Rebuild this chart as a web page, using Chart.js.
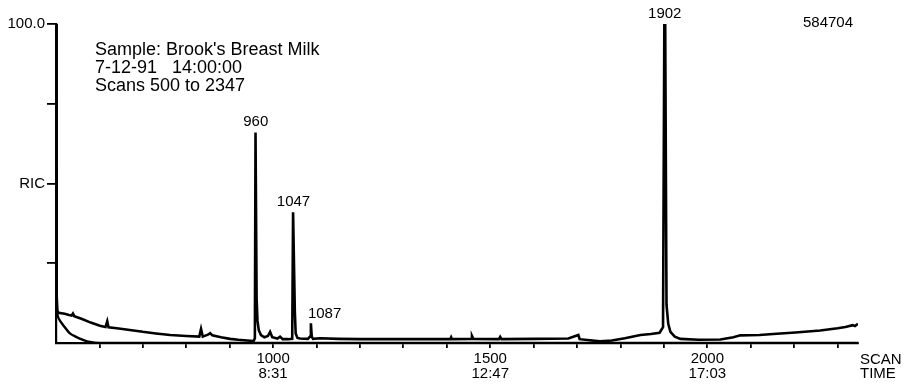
<!DOCTYPE html>
<html>
<head>
<meta charset="utf-8">
<script src="https://cdn.jsdelivr.net/npm/chart.js@4.4.1/dist/chart.umd.min.js"></script>
<style>
  html, body { margin: 0; padding: 0; background: #fff; }
</style>
</head>
<body>
<canvas id="ric" width="907" height="388"></canvas>
<script>
// RIC trace (scan number -> % of full scale)
const scanNumbers = [500, 501, 502, 503, 506, 520, 530, 536, 539, 542, 560, 580, 601, 614, 618, 621, 640, 670, 700, 730, 763, 800, 830, 834, 838, 850, 855, 860, 880, 901, 920, 947, 955, 958, 959.5, 960.5, 962, 964, 967, 972, 980, 988, 993, 998, 1010, 1016, 1022, 1034, 1044, 1046, 1048, 1050, 1052, 1056, 1062, 1080, 1085, 1087, 1089, 1092, 1108, 1150, 1200, 1300, 1408, 1410, 1412, 1456, 1458, 1461, 1520, 1523, 1526, 1600, 1680, 1703, 1706, 1753, 1780, 1810, 1846, 1870, 1890, 1898, 1901, 1903, 1906, 1910, 1915, 1925, 1938, 1980, 2030, 2060, 2076, 2120, 2160, 2203, 2260, 2300, 2318, 2335, 2340, 2347];
const ricValues = [100, 60, 15, 10, 9.5, 9.2, 8.8, 8.6, 9.2, 8.4, 7.5, 6.4, 5.4, 5.0, 6.8, 4.9, 4.6, 4.1, 3.5, 3.0, 2.5, 2.2, 2.0, 4.4, 2.0, 2.6, 3.1, 2.4, 1.8, 1.3, 1.0, 0.7, 0.6, 1.5, 66, 66, 14, 7, 4, 2.5, 1.8, 2.2, 3.5, 1.8, 1.4, 2.0, 1.2, 1.2, 1.3, 41, 41, 10, 3, 1.6, 1.4, 1.3, 2, 6.2, 2, 1.3, 1.5, 1.3, 1.2, 1.2, 1.2, 1.8, 1.2, 1.3, 2.2, 1.3, 1.2, 1.9, 1.2, 1.3, 1.4, 2.5, 1.2, 0.5, 0.8, 1.5, 2.5, 2.8, 3.2, 5, 100, 100, 12, 6, 3.5, 2.0, 1.3, 1.0, 1.1, 1.8, 2.4, 2.5, 2.9, 3.3, 3.9, 4.6, 5.0, 5.6, 5.3, 6.0];

// lower baseline curve
const baselineScans = [500, 501, 502, 504, 509, 520, 532, 545, 562, 578, 600, 2347];
const baselineValues = [100, 40, 12, 8.5, 7, 5, 3, 2, 1, 0.3, 0, 0];

const peakScans = [960, 1047, 1087, 1902];
const peakHeights = [66, 41, 6.2, 100];

const labelledScans = [1000, 1500, 2000];
const scanTimes = ['8:31', '12:47', '17:03'];

const yTickValues = [25, 50, 75, 100];
const yTickLabels = ['', 'RIC', '', '100.0'];

const sampleInfo = ["Sample: Brook's Breast Milk", '7-12-91   14:00:00', 'Scans 500 to 2347'];
const fullScale = '584704';

const FONT = '"Liberation Sans", Arial, sans-serif';

const toPoints = (xs, ys) => xs.map((x, i) => ({ x: x, y: ys[i] }));

const annotations = {
    id: 'annotations',
    afterDraw(chart) {
        const ctx = chart.ctx
        const xs = chart.scales.x
        const ys = chart.scales.y
        ctx.save()
        ctx.fillStyle = '#000'

        // sample block
        ctx.font = '18px ' + FONT
        ctx.textAlign = 'left'
        ctx.textBaseline = 'alphabetic'
        const infoBase = [55, 73, 91]
        sampleInfo.forEach((line, i) => ctx.fillText(line, 95, infoBase[i]))

        // peak scan numbers
        ctx.font = '15px ' + FONT
        peakScans.forEach((scan, i) => {
            const px = xs.getPixelForValue(scan)
            const py = ys.getPixelForValue(peakHeights[i])
            if (scan === 1087) {
                ctx.textAlign = 'left'
                ctx.fillText(String(scan), px - 3, py - 5)
            } else {
                ctx.textAlign = 'center'
                ctx.fillText(String(scan), px, py - 6)
            }
        })

        // full scale count, top right
        ctx.textAlign = 'center'
        ctx.fillText(fullScale, 828, 27)

        // axis title at the right end
        ctx.textAlign = 'left'
        ctx.fillText('SCAN', 860, 364)
        ctx.fillText('TIME', 860, 378)
        ctx.restore()
    }
}

new Chart(document.getElementById('ric'), {
    type: 'line',
    data: {
        datasets: [
            {
                data: toPoints(scanNumbers, ricValues),
                borderColor: '#000',
                borderWidth: 2.6,
                pointRadius: 0,
                tension: 0,
                fill: false
            },
            {
                data: toPoints(baselineScans, baselineValues),
                borderColor: '#000',
                borderWidth: 2.4,
                pointRadius: 0,
                tension: 0.3,
                fill: false
            }
        ]
    },
    options: {
        responsive: false,
        animation: false,
        layout: { padding: { top: 24, right: 49, left: 0, bottom: 0 } },
        plugins: {
            legend: { display: false },
            tooltip: { enabled: false }
        },
        scales: {
            x: {
                type: 'linear',
                min: 500,
                max: 2347,
                afterFit(s) { s.height = 45 },
                afterBuildTicks(s) {
                    const t = []
                    for (let v = 600; v <= 2300; v += 100) t.push({ value: v })
                    s.ticks = t
                },
                grid: { drawOnChartArea: false, drawTicks: true, tickLength: 5, color: '#000', lineWidth: 1.8 },
                border: { display: true, color: '#000', width: 2.2 },
                ticks: {
                    autoSkip: false,
                    maxRotation: 0,
                    padding: 4,
                    color: '#000',
                    font: { family: FONT, size: 15, lineHeight: 0.95 },
                    callback(v) {
                        const i = labelledScans.indexOf(v)
                        return i < 0 ? '' : [String(v), scanTimes[i]]
                    }
                }
            },
            y: {
                min: 0,
                max: 100,
                afterFit(s) { s.width = 56 },
                afterBuildTicks(s) { s.ticks = yTickValues.map(v => ({ value: v })) },
                grid: { drawOnChartArea: false, drawTicks: true, tickLength: 9, color: '#000', lineWidth: 1.8 },
                border: { display: true, color: '#000', width: 2.2 },
                ticks: {
                    padding: 2,
                    color: '#000',
                    font: { family: FONT, size: 15 },
                    callback(v) {
                        const i = yTickValues.indexOf(v)
                        return i < 0 ? '' : yTickLabels[i]
                    }
                }
            }
        }
    },
    plugins: [annotations]
});
</script>
</body>
</html>
